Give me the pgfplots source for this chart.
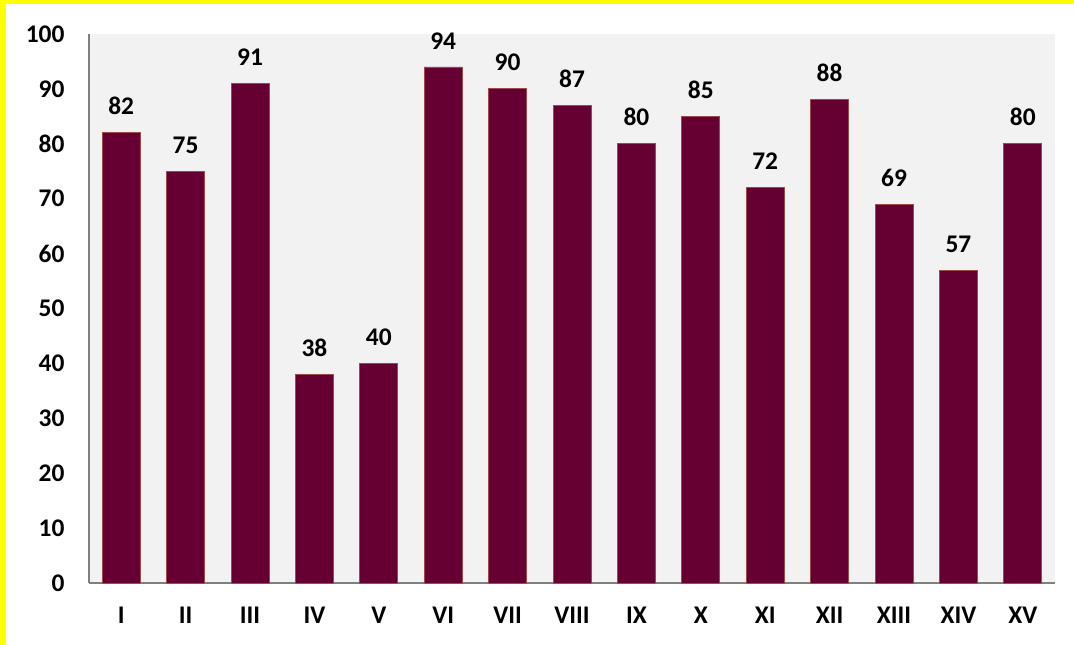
\documentclass[border=0pt]{standalone}
\usepackage{pgfplots}
\pgfplotsset{compat=1.18}
\usepackage{fontspec}
\setmainfont{Carlito}
\definecolor{barfill}{HTML}{660033}
\definecolor{baredge}{HTML}{9C4A4A}
\definecolor{plotbg}{HTML}{F2F2F2}
\definecolor{axgray}{HTML}{808080}
\definecolor{ylw}{HTML}{FFFF00}
\begin{document}
\begin{tikzpicture}[x=1bp,y=1bp]
\useasboundingbox (0,0) rectangle (1074,645);
\fill[white] (0,0) rectangle (1074,645);
\fill[ylw] (0,0) rectangle (6,645);
\fill[ylw] (0,641) rectangle (1074,645);
\begin{axis}[
  at={(89bp,62bp)}, anchor=south west,
  scale only axis, width=966bp, height=549bp,
  xmin=-0.5, xmax=14.5, ymin=0, ymax=100,
  ytick={0,10,...,100},
  xtick={0,...,14},
  xticklabels={I,II,III,IV,V,VI,VII,VIII,IX,X,XI,XII,XIII,XIV,XV},
  major tick length=0pt,
  axis background/.style={fill=plotbg},
  axis x line*=bottom, axis y line*=left,
  axis line style={-, draw=axgray, line width=1.3pt},
  ticklabel style={font=\bfseries\fontsize{25.5}{28}\selectfont},
  /pgf/number format/assume math mode=true,
  yticklabel style={xshift=-21bp},
  xticklabel style={yshift=-21bp},
  ybar, bar width=38bp,
  nodes near coords,
  every node near coord/.append style={font=\bfseries\fontsize{25.5}{28}\selectfont, yshift=14bp},
  clip=false,
]
\addplot[fill=barfill, draw=baredge, line width=0.8pt] coordinates {
(0,82) (1,75) (2,91) (3,38) (4,40) (5,94) (6,90) (7,87) (8,80) (9,85) (10,72) (11,88) (12,69) (13,57) (14,80)
};
\end{axis}
\end{tikzpicture}
\end{document}
